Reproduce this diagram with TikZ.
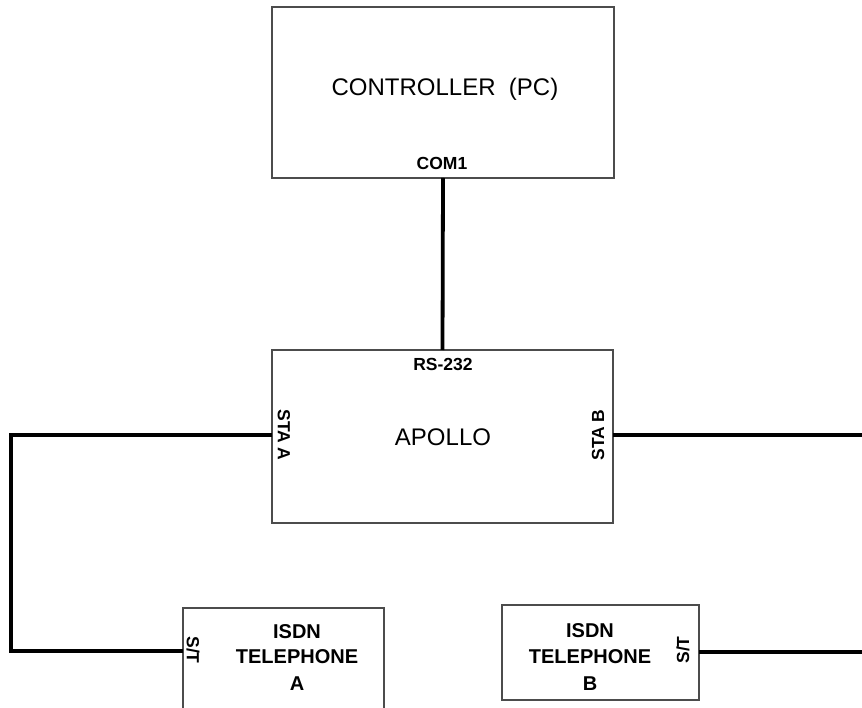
\documentclass[tikz,border=0pt]{standalone}
\usepackage{fontspec}
\setmainfont{Liberation Sans}
\begin{document}
\begin{tikzpicture}[x=1pt,y=-1pt,
  box/.style={draw=black!70, line width=1.1pt, inner sep=0pt, outer sep=0pt},
  wire/.style={line width=3.8pt, line join=miter, line cap=butt},
  bigtxt/.style={font=\fontsize{24}{28}\selectfont, inner sep=0pt},
  phtxt/.style={font=\bfseries\fontsize{20}{24}\selectfont, inner sep=0pt},
  lab/.style={font=\bfseries\fontsize{17.5}{20}\selectfont, inner sep=0pt}]
\clip (0,0) rectangle (862,708);
\useasboundingbox (0,0) rectangle (862,708);
% boxes
\node[box, minimum width=342pt, minimum height=171pt] (pc) at (443,92.5) {};
\node[box, minimum width=341pt, minimum height=173pt] (apollo) at (442.5,436.5) {};
\node[box, minimum width=201pt, minimum height=108pt] (phA) at (283.5,662) {};
\node[box, minimum width=197pt, minimum height=95pt] (phB) at (600.5,652.5) {};
% texts
\node[bigtxt] (pct) at (445,89) {CONTROLLER\ \ (PC)};
\node[lab] (com) at (442,163) {COM1};
\node[lab] (rs) at (443,364) {RS-232};
\node[bigtxt] (apt) at (443,437) {APOLLO};
\node[lab, rotate=-90] (staa) at (284,435) {STA A};
\node[lab, rotate=90] (stab) at (598,435) {STA B};
\node[phtxt] (a1) at (297,632) {ISDN};
\node[phtxt] (a2) at (297,657) {TELEPHONE};
\node[phtxt] (a3) at (297,684) {A};
\node[lab, rotate=-90] (sta) at (193,650) {S/T};
\node[phtxt] (b1) at (590,631) {ISDN};
\node[phtxt] (b2) at (590,657) {TELEPHONE};
\node[phtxt] (b3) at (590,684) {B};
\node[lab, rotate=90] (stb) at (683,650) {S/T};
% connector free ends
\coordinate (rightA) at (870,435);
\coordinate (rightB) at (870,652);
\coordinate (turn1) at (11,435);
\coordinate (turn2) at (11,651);
% connectors
\draw[wire] (pc.south) -- (apollo.north);
\draw[wire] (apollo.west |- turn1) -- (turn1) -- (turn2) -- (phA.west |- turn2);
\draw[wire] (apollo.east |- rightA) -- (rightA);
\draw[wire] (phB.east |- rightB) -- (rightB);
\end{tikzpicture}
\end{document}
